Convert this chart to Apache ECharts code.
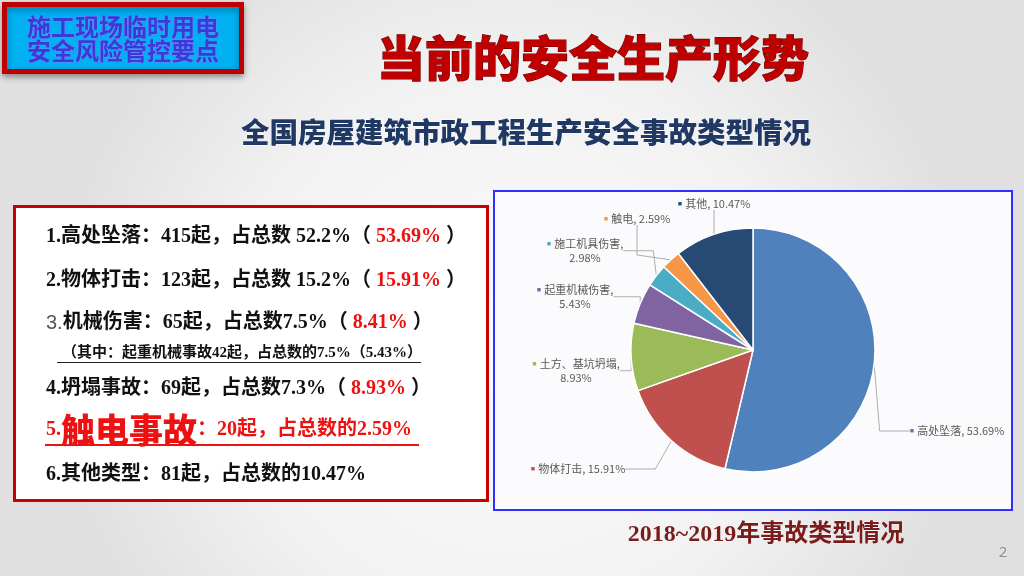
<!DOCTYPE html>
<html>
<head>
<meta charset="utf-8">
<title>当前的安全生产形势</title>
<script src="https://cdn.jsdelivr.net/npm/echarts@6/dist/echarts.min.js"></script>
<style>
  html, body { margin: 0; padding: 0; }
  #chart { width: 1024px; height: 576px; }
</style>
</head>
<body>
<div id="chart"></div>
<script>
// pie: accident types, clockwise from 12 o'clock
const categories = ['高处坠落', '物体打击', '土方、基坑坍塌', '起重机械伤害', '施工机具伤害', '触电', '其他'];
const percents = [53.69, 15.91, 8.93, 5.43, 2.98, 2.59, 10.47];
const sliceColors = ['#4f81bd', '#c0504d', '#9bbb59', '#8064a2', '#4bacc6', '#f79646', '#264a74'];
const wrapLabel = [false, false, true, true, true, false, false];

// left panel
const statNames = ['高处坠落', '物体打击', '机械伤害', '坍塌事故', '触电事故', '其他类型'];
const statCounts = [415, 123, 65, 69, 20, 81];
const statShares = ['52.2%', '15.2%', '7.5%', '7.3%', '2.59%', '10.47%'];
const statPieShares = ['53.69%', '15.91%', '8.41%', '8.93%'];
const craneNote = '（其中：起重机械事故42起，占总数的7.5%（5.43%）';

// label anchor spots for the pie labels (layout only)
const labelSpots = [[957, 431], [578, 469], [576, 371], [575, 297], [585, 251], [637, 219], [714, 204]];

const serif = '"Liberation Serif", "Noto Sans CJK SC", serif';
const cjk = '"Noto Sans CJK SC", sans-serif';

const chart = echarts.init(document.getElementById('chart'));

// rich text lines for the panel
const lineY = [237, 281, 323, 389, 430, 475];
const panelTexts = statNames.map(function (name, i) {
  let txt;
  if (i < 4) {
    txt = '{' + (i === 2 ? 'g' : 'b') + '|' + (i + 1) + '.}{b|' + name + '：' + statCounts[i] + '起，占总数' + (i < 2 ? ' ' : '') +
      statShares[i] + '（ }{r|' + statPieShares[i] + '}{b| ）}';
  } else if (i === 4) {
    txt = '{rs|5.}{big|' + name + '}{rs|：' + statCounts[i] + '起，占总数的' + statShares[i] + '}';
  } else {
    txt = '{b|' + (i + 1) + '.' + name + '：' + statCounts[i] + '起，占总数的' + statShares[i] + '}';
  }
  return {
    type: 'text', x: 46, y: lineY[i], z: 20,
    style: {
      text: txt, verticalAlign: 'middle',
      rich: {
        b: { fontSize: 20, fontWeight: 'bold', fontFamily: serif, fill: '#111' },
        g: { fontSize: 20, fontFamily: '"Liberation Sans", sans-serif', fill: '#555' },
        r: { fontSize: 20, fontWeight: 'bold', fontFamily: serif, fill: '#ee1111' },
        rs: { fontSize: 20, fontWeight: 'bold', fontFamily: serif, fill: '#ee1111' },
        big: { fontSize: 34, fontWeight: 900, fontFamily: cjk, fill: '#ee1111' }
      }
    }
  };
});

const labelRich = { t: { color: '#595959', fontSize: 11, fontFamily: cjk, lineHeight: 14 } };
sliceColors.forEach(function (c, i) {
  labelRich['m' + i] = { color: c, fontSize: 7 };
});

chart.setOption({
  animation: false,
  graphic: [
    {
      type: 'rect', z: -10, shape: { x: 0, y: 0, width: 1024, height: 576 },
      style: {
        fill: new echarts.graphic.RadialGradient(0.5, 0.6, 0.8, [
          { offset: 0, color: '#fbfbfb' },
          { offset: 0.6, color: '#f2f2f2' },
          { offset: 1, color: '#e0e0e0' }
        ])
      }
    },
    // top-left tag
    {
      type: 'rect', z: 5, shape: { x: 4.5, y: 4.5, width: 237, height: 67 },
      style: { fill: '#00b0f0', stroke: '#c00000', lineWidth: 5, shadowColor: 'rgba(0,0,0,0.3)', shadowBlur: 6, shadowOffsetY: 3 }
    },
    {
      type: 'text', x: 123, y: 27, z: 6,
      style: { text: '施工现场临时用电', align: 'center', verticalAlign: 'middle', fontSize: 24, fontWeight: 'bold', fontFamily: cjk, fill: '#3a3ad8', stroke: '#8080ff', lineWidth: 0.8 }
    },
    {
      type: 'text', x: 123, y: 51, z: 6,
      style: { text: '安全风险管控要点', align: 'center', verticalAlign: 'middle', fontSize: 24, fontWeight: 'bold', fontFamily: cjk, fill: '#3a3ad8', stroke: '#8080ff', lineWidth: 0.8 }
    },
    // titles
    {
      type: 'text', x: 593, y: 58, z: 6,
      style: {
        text: '当前的安全生产形势', align: 'center', verticalAlign: 'middle', fontSize: 48, fontWeight: 900, fontFamily: cjk,
        fill: '#c00000', stroke: '#6e0000', lineWidth: 1.2,
        shadowColor: 'rgba(0,0,0,0.35)', shadowBlur: 2, shadowOffsetX: 2, shadowOffsetY: 2
      }
    },
    {
      type: 'text', x: 526, y: 132, z: 6,
      style: {
        text: '全国房屋建筑市政工程生产安全事故类型情况', align: 'center', verticalAlign: 'middle', fontSize: 28.5, fontWeight: 900, fontFamily: cjk,
        fill: '#1f3864', stroke: '#ffffff', lineWidth: 0.8,
        shadowColor: 'rgba(0,0,0,0.35)', shadowBlur: 2, shadowOffsetX: 1.5, shadowOffsetY: 1.5
      }
    },
    // left panel
    {
      type: 'rect', z: 5, shape: { x: 14.5, y: 206.5, width: 473, height: 294 },
      style: { fill: '#ffffff', stroke: '#c80000', lineWidth: 3 }
    },
    {
      type: 'text', x: 62, y: 353, z: 20,
      style: { text: craneNote, verticalAlign: 'middle', fontSize: 15, fontWeight: 'bold', fontFamily: serif, fill: '#111' }
    },
    { type: 'line', z: 20, shape: { x1: 57, y1: 362.5, x2: 421, y2: 362.5 }, style: { stroke: '#222', lineWidth: 1 } },
    { type: 'line', z: 20, shape: { x1: 45, y1: 445, x2: 419, y2: 445 }, style: { stroke: '#ee1111', lineWidth: 2 } }
  ].concat(panelTexts).concat([
    // chart frame
    {
      type: 'rect', z: -5, shape: { x: 494, y: 191, width: 518, height: 319 },
      style: { fill: '#fbfbfd', stroke: '#2f2fff', lineWidth: 2 }
    },
    {
      type: 'text', x: 766, y: 535, z: 6,
      style: {
        text: '2018~2019年事故类型情况', align: 'center', verticalAlign: 'middle', fontSize: 24, fontWeight: 'bold', fontFamily: serif,
        fill: '#7a1c1c', stroke: '#ffffff', lineWidth: 0.6,
        shadowColor: 'rgba(0,0,0,0.3)', shadowBlur: 2, shadowOffsetX: 1.5, shadowOffsetY: 1.5
      }
    },
    {
      type: 'text', x: 1003, y: 553, z: 6,
      style: { text: '2', align: 'center', verticalAlign: 'middle', fontSize: 15, fontFamily: '"Open Sans", sans-serif', fill: '#8c8c8c' }
    }
  ]),
  series: [{
    type: 'pie',
    center: [753, 350],
    radius: 122,
    startAngle: 90,
    clockwise: true,
    z: 10,
    itemStyle: { borderColor: '#ffffff', borderWidth: 1.5 },
    data: categories.map(function (name, i) {
      return { name: name, value: percents[i], itemStyle: { color: sliceColors[i] } };
    }),
    label: {
      show: true,
      position: 'outside',
      align: 'center',
      overflow: 'none',
      rich: labelRich,
      formatter: function (p) {
        return '{m' + p.dataIndex + '|■} {t|' + p.name + ',' + (wrapLabel[p.dataIndex] ? '\n' : ' ') + p.value + '%}';
      }
    },
    labelLine: { show: true, lineStyle: { color: '#9a9a9a', width: 0.8 } },
    labelLayout: function (params) {
      const s = labelSpots[params.dataIndex];
      return { x: s[0], y: s[1], align: 'center', verticalAlign: 'middle', width: null };
    },
    emphasis: { disabled: true }
  }]
});
</script>
</body>
</html>
